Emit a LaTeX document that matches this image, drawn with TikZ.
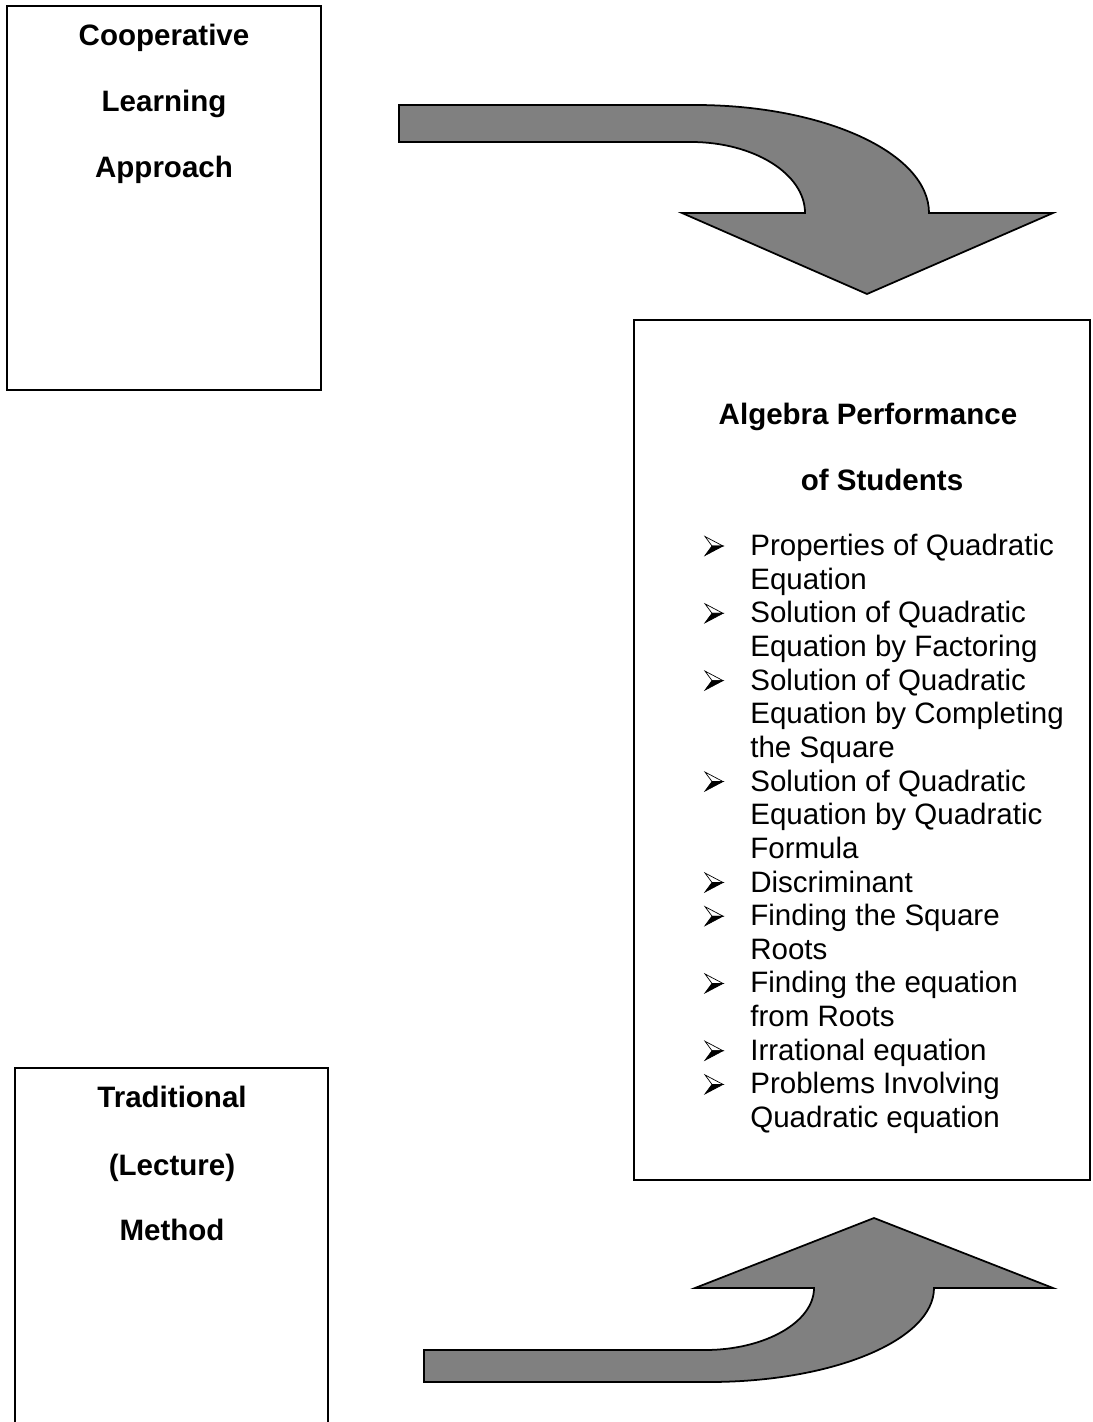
\documentclass[tikz,border=0pt]{standalone}
\usepackage{fontspec}
\setmainfont{Liberation Sans}
\usepackage{xcolor}
\usetikzlibrary{positioning}

\definecolor{arrowgray}{HTML}{808080}

\tikzset{
    box/.style={draw, line width=1pt},
    title/.style={font=\bfseries\fontsize{16.8}{19}\selectfont, anchor=base, inner sep=0pt},
    listline/.style={font=\fontsize{16.8}{19}\selectfont, anchor=base west, inner sep=0pt},
    bendarrow/.style={draw, line width=1pt, fill=arrowgray, line join=miter}
}

\begin{document}
\begin{tikzpicture}[x=0.02cm, y=-0.02cm]
    \useasboundingbox (0,0) rectangle (1092,1422);
    \clip (0,0) rectangle (1092,1422);

    % boxes
    \draw[box] (7,6) rectangle (321,390);
    \draw[box] (634,320) rectangle (1090,1180);
    \draw[box] (15,1440) -- (15,1068) -- (328,1068) -- (328,1440);

    % left texts
    \node[title] (coop) at (164,46) {Cooperative};
    \node[title] (learn) at (164,112) {Learning};
    \node[title] (appr) at (164,178) {Approach};
    \node[title] (trad) at (172,1107) {Traditional};
    \node[title] (lect) at (172,1175) {(Lecture)};
    \node[title] (meth) at (172,1240) {Method};

    % right box
    \node[title] (alg) at (868,424) {Algebra Performance};
    \node[title] (stud) at (882,490) {of Students};
    \foreach \txt [count=\i from 0] in {Properties of Quadratic, Equation,
        Solution of Quadratic, Equation by Factoring,
        Solution of Quadratic, Equation by Completing, the Square,
        Solution of Quadratic, Equation by Quadratic, Formula,
        Discriminant, Finding the Square, Roots,
        Finding the equation, from Roots, Irrational equation,
        Problems Involving, Quadratic equation}
        \node[listline] (line\i) at (750,{555.5+33.65*\i}) {\txt};
    \foreach \i in {0,2,4,7,10,11,13,15,16} {
        \begin{scope}[shift={(713,{546+33.65*\i})}]
            \draw[line width=0.4pt, fill=white] (-8,-9.5) -- (10,0) -- (-1,0) -- cycle;
            \draw[line width=0.4pt, fill=black] (-1,0) -- (10,0) -- (-8,9.5) -- cycle;
        \end{scope}
    }

    % arrows
    \draw[bendarrow] (399,105) -- (695,105) .. controls (824,105) and (929,153) .. (929,213)
        -- (1053,213) -- (867,294) -- (682,213) -- (805,213)
        .. controls (805,174) and (754,142) .. (691,142) -- (399,142) -- cycle;
    \draw[bendarrow] (424,1382) -- (709,1382) .. controls (833,1382) and (934,1340) .. (934,1288)
        -- (1053,1288) -- (874,1218) -- (695,1288) -- (814,1288)
        .. controls (814,1322) and (765,1350) .. (705,1350) -- (424,1350) -- cycle;
\end{tikzpicture}
\end{document}
